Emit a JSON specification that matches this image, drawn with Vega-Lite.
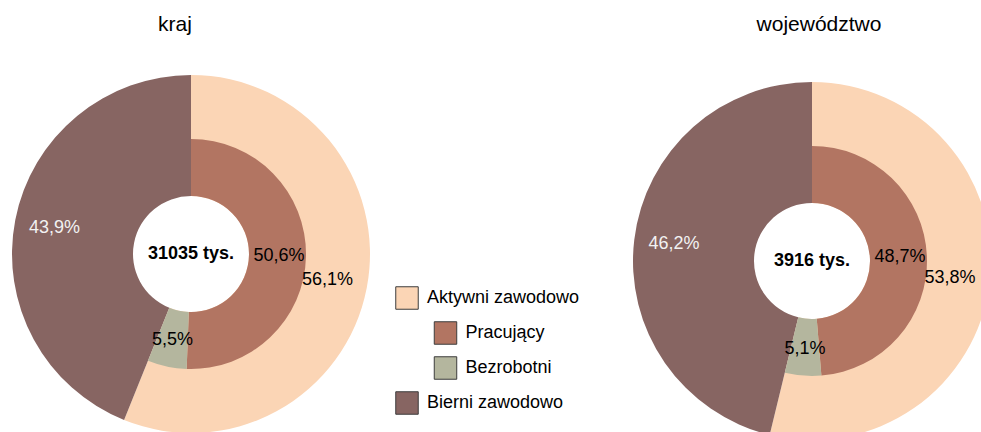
{
  "$schema": "https://vega.github.io/schema/vega-lite/v6.json",
  "width": 981,
  "height": 432,
  "autosize": {"type": "none"},
  "padding": 0,
  "background": "white",
  "config": {
    "view": {"stroke": null},
    "font": "Liberation Sans",
    "text": {"font": "Liberation Sans"},
    "locale": {"number": {"decimal": ",", "thousands": " ", "grouping": [3], "currency": ["", " tys."]}}
  },
  "datasets": {
    "shares": [
      {"region": "kraj", "ring": "outer", "cat": "Aktywni zawodowo", "pct": 0.561},
      {"region": "kraj", "ring": "outer", "cat": "Bierni zawodowo", "pct": 0.439},
      {"region": "kraj", "ring": "inner", "cat": "Pracujący", "pct": 0.506},
      {"region": "kraj", "ring": "inner", "cat": "Bezrobotni", "pct": 0.055},
      {"region": "województwo", "ring": "outer", "cat": "Aktywni zawodowo", "pct": 0.538},
      {"region": "województwo", "ring": "outer", "cat": "Bierni zawodowo", "pct": 0.462},
      {"region": "województwo", "ring": "inner", "cat": "Pracujący", "pct": 0.487},
      {"region": "województwo", "ring": "inner", "cat": "Bezrobotni", "pct": 0.051}
    ],
    "totals": [
      {"region": "kraj", "total": 31035},
      {"region": "województwo", "total": 3916}
    ]
  },
  "layer": [
    {
      "data": {"name": "shares"},
      "encoding": {
        "x": {"field": "region", "type": "nominal", "axis": null, "scale": {"type": "point", "domain": ["kraj", "województwo"], "range": [191, 812], "padding": 0}},
        "y": {"field": "region", "type": "nominal", "axis": null, "scale": {"type": "point", "domain": ["kraj", "województwo"], "range": [254, 261], "padding": 0}}
      },
      "layer": [
        {
          "transform": [{"filter": {"field": "region", "equal": "kraj"}}, {"filter": {"field": "ring", "equal": "outer"}}],
          "mark": {"type": "arc", "radius": 179, "radius2": 58},
          "encoding": {
            "theta": {"field": "pct", "type": "quantitative", "stack": true, "scale": {"domain": [0, 1]}},
            "order": {"field": "cat", "sort": "ascending"},
            "color": {"field": "cat", "type": "nominal", "legend": null, "scale": {"domain": ["Aktywni zawodowo", "Pracujący", "Bezrobotni", "Bierni zawodowo"], "range": ["#FBD5B5", "#B27562", "#B4B69E", "#876562"]}}
          }
        },
        {
          "transform": [{"filter": {"field": "region", "equal": "województwo"}}, {"filter": {"field": "ring", "equal": "outer"}}],
          "mark": {"type": "arc", "radius": 179, "radius2": 58},
          "encoding": {
            "theta": {"field": "pct", "type": "quantitative", "stack": true, "scale": {"domain": [0, 1]}},
            "order": {"field": "cat", "sort": "ascending"},
            "color": {"field": "cat", "type": "nominal", "legend": null}
          }
        },
        {
          "transform": [{"filter": {"field": "region", "equal": "kraj"}}, {"filter": {"field": "ring", "equal": "inner"}}],
          "mark": {"type": "arc", "radius": 115, "radius2": 58},
          "encoding": {
            "theta": {"field": "pct", "type": "quantitative", "stack": true, "scale": {"domain": [0, 1]}},
            "order": {"field": "cat", "sort": "descending"},
            "color": {"field": "cat", "type": "nominal", "legend": null}
          }
        },
        {
          "transform": [{"filter": {"field": "region", "equal": "województwo"}}, {"filter": {"field": "ring", "equal": "inner"}}],
          "mark": {"type": "arc", "radius": 115, "radius2": 58},
          "encoding": {
            "theta": {"field": "pct", "type": "quantitative", "stack": true, "scale": {"domain": [0, 1]}},
            "order": {"field": "cat", "sort": "descending"},
            "color": {"field": "cat", "type": "nominal", "legend": null}
          }
        },
        {
          "transform": [{"filter": {"field": "region", "equal": "kraj"}}, {"filter": {"field": "ring", "equal": "outer"}}],
          "mark": {"type": "text", "radius": 139, "fontSize": 18, "align": "center", "baseline": "middle"},
          "encoding": {
            "theta": {"field": "pct", "type": "quantitative", "stack": true},
            "order": {"field": "cat", "sort": "ascending"},
            "text": {"field": "pct", "type": "quantitative", "format": ".1%"},
            "color": {"condition": {"test": "datum.cat === 'Bierni zawodowo'", "value": "#F2F2F2"}, "value": "#000000"}
          }
        },
        {
          "transform": [{"filter": {"field": "region", "equal": "województwo"}}, {"filter": {"field": "ring", "equal": "outer"}}],
          "mark": {"type": "text", "radius": 139, "fontSize": 18, "align": "center", "baseline": "middle"},
          "encoding": {
            "theta": {"field": "pct", "type": "quantitative", "stack": true},
            "order": {"field": "cat", "sort": "ascending"},
            "text": {"field": "pct", "type": "quantitative", "format": ".1%"},
            "color": {"condition": {"test": "datum.cat === 'Bierni zawodowo'", "value": "#F2F2F2"}, "value": "#000000"}
          }
        },
        {
          "transform": [{"filter": {"field": "region", "equal": "kraj"}}, {"filter": {"field": "ring", "equal": "inner"}}],
          "mark": {"type": "text", "radius": 88, "fontSize": 18, "align": "center", "baseline": "middle", "color": "#000000"},
          "encoding": {
            "theta": {"field": "pct", "type": "quantitative", "stack": true},
            "order": {"field": "cat", "sort": "descending"},
            "text": {"field": "pct", "type": "quantitative", "format": ".1%"}
          }
        },
        {
          "transform": [{"filter": {"field": "region", "equal": "województwo"}}, {"filter": {"field": "ring", "equal": "inner"}}],
          "mark": {"type": "text", "radius": 88, "fontSize": 18, "align": "center", "baseline": "middle", "color": "#000000"},
          "encoding": {
            "theta": {"field": "pct", "type": "quantitative", "stack": true},
            "order": {"field": "cat", "sort": "descending"},
            "text": {"field": "pct", "type": "quantitative", "format": ".1%"}
          }
        },
        {
          "data": {"name": "totals"},
          "mark": {"type": "text", "fontSize": 18, "fontWeight": "bold", "align": "center", "baseline": "middle", "color": "#000000"},
          "encoding": {
            "text": {"field": "total", "type": "quantitative", "format": "$d"}
          }
        }
      ]
    },
    {
      "data": {"name": "totals"},
      "mark": {"type": "text", "fontSize": 21, "align": "center", "baseline": "alphabetic", "color": "#000000"},
      "encoding": {
        "x": {"field": "region", "type": "nominal", "axis": null, "scale": {"type": "point", "domain": ["kraj", "województwo"], "range": [175, 819], "padding": 0}},
        "y": {"field": "region", "type": "nominal", "axis": null, "scale": {"type": "point", "domain": ["kraj", "województwo"], "range": [30.5, 30.5], "padding": 0}},
        "text": {"field": "region", "type": "nominal"}
      }
    },
    {
      "data": {"name": "shares"},
      "transform": [{"filter": {"field": "region", "equal": "kraj"}}],
      "encoding": {
        "x": {"field": "ring", "type": "nominal", "axis": null, "scale": {"type": "point", "domain": ["outer", "inner"], "range": [407, 445.5], "padding": 0}},
        "y": {"field": "cat", "type": "nominal", "axis": null, "scale": {"type": "point", "domain": ["Aktywni zawodowo", "Pracujący", "Bezrobotni", "Bierni zawodowo"], "range": [298, 403], "padding": 0}}
      },
      "layer": [
        {
          "mark": {"type": "point", "shape": "square", "filled": true, "size": 506, "stroke": "#3C3C3C", "strokeWidth": 1, "opacity": 1},
          "encoding": {
            "fill": {"field": "cat", "type": "nominal", "legend": null, "scale": {"domain": ["Aktywni zawodowo", "Pracujący", "Bezrobotni", "Bierni zawodowo"], "range": ["#FBD5B5", "#B27562", "#B4B69E", "#876562"]}}
          }
        },
        {
          "mark": {"type": "text", "align": "left", "baseline": "middle", "dx": 20, "fontSize": 18, "color": "#000000"},
          "encoding": {
            "text": {"field": "cat", "type": "nominal"}
          }
        }
      ]
    }
  ],
  "resolve": {"scale": {"x": "independent", "y": "independent"}}
}
